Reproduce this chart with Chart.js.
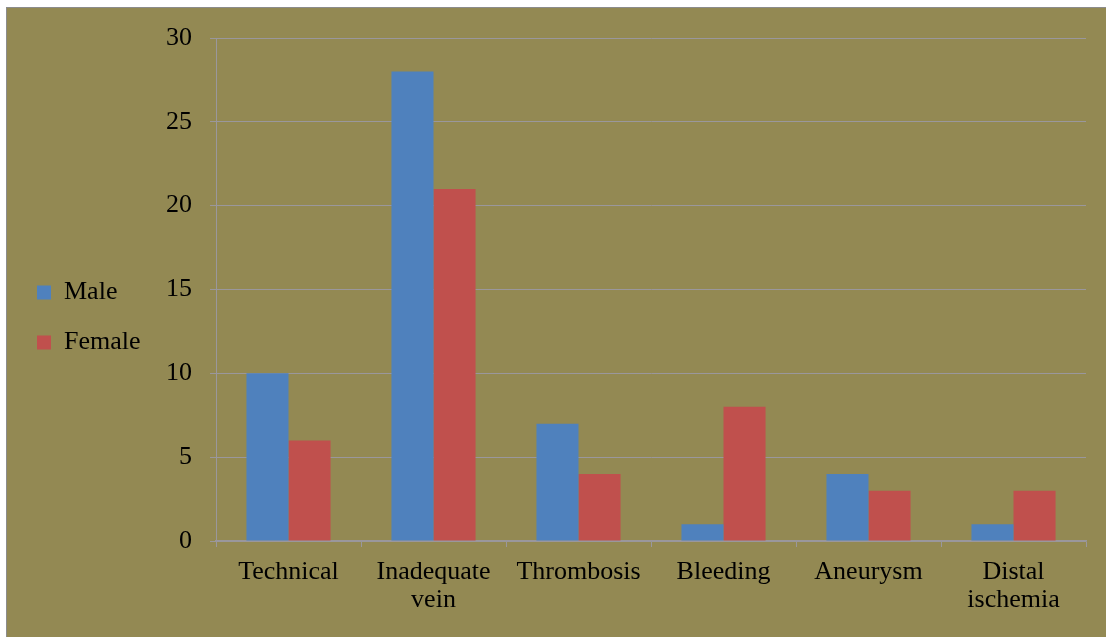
<!DOCTYPE html>
<html>
<head>
<meta charset="utf-8">
<script src="https://cdn.jsdelivr.net/npm/chart.js@4.4.1/dist/chart.umd.min.js"></script>
<style>
  html, body { margin: 0; padding: 0; background: #ffffff; overflow: hidden; }
  #wrap {
    position: absolute; left: 6px; top: 7px;
    width: 1100px; height: 630px;
    background: #938953;
    border-left: 1px solid #8c8c8c;
    border-top: 1px solid #8c8c8c;
  }
</style>
</head>
<body>
<div id="wrap"><canvas id="chart" width="1100" height="630"></canvas></div>
<script>
// categories and series
const categories = ['Technical', ['Inadequate', 'vein'], 'Thrombosis', 'Bleeding', 'Aneurysm', ['Distal', 'ischemia']];
const maleValues = [10, 28, 7, 1, 4, 1];
const femaleValues = [6, 21, 4, 8, 3, 3];
const yTicks = [0, 5, 10, 15, 20, 25, 30];

const gridColor = '#9a979c';
const serif = "'Liberation Serif', 'Times New Roman', serif";
const plotLeft = 209;   // y axis position inside the canvas
const plotTop = 30;
const padLeft = 6;

const ctx = document.getElementById('chart').getContext('2d');
new Chart(ctx, {
    type: 'bar',
    data: {
        labels: categories,
        datasets: [
            { label: 'Male', data: maleValues, backgroundColor: '#4F81BD' },
            { label: 'Female', data: femaleValues, backgroundColor: '#C0504D' },
        ],
    },
    options: {
        responsive: false,
        animation: false,
        datasets: {
            bar: { barPercentage: 1, categoryPercentage: 0.58 },
        },
        layout: { padding: { top: 9, right: 21, left: padLeft, bottom: 20 } },
        plugins: {
            tooltip: { enabled: false },
            legend: {
                position: 'left',
                labels: {
                    boxWidth: 14,
                    boxHeight: 14,
                    padding: 24,
                    color: '#000',
                    font: { family: serif, size: 26, lineHeight: 1.2 },
                },
            },
        },
        scales: {
            x: {
                afterFit: (scale) => { scale.height = 77; },
                grid: { drawOnChartArea: false, color: gridColor, tickLength: 6 },
                border: { color: gridColor, width: 1.5 },
                ticks: {
                    color: '#000',
                    padding: 11,
                    maxRotation: 0,
                    autoSkip: false,
                    font: { family: serif, size: 26, lineHeight: 1.08 },
                },
            },
            y: {
                min: 0,
                max: 30,
                afterBuildTicks: (scale) => { scale.ticks = yTicks.map(v => ({ value: v })); },
                afterFit: (scale) => {
                    const lg = scale.chart.legend;
                    scale.width = plotLeft - padLeft - (lg ? lg.width : 0);
                    scale.paddingTop = plotTop;
                },
                grid: { color: gridColor, tickLength: 6 },
                border: { color: gridColor },
                ticks: {
                    color: '#000',
                    padding: 18,
                    font: { family: serif, size: 26 },
                },
            },
        },
    },
});
</script>
</body>
</html>
